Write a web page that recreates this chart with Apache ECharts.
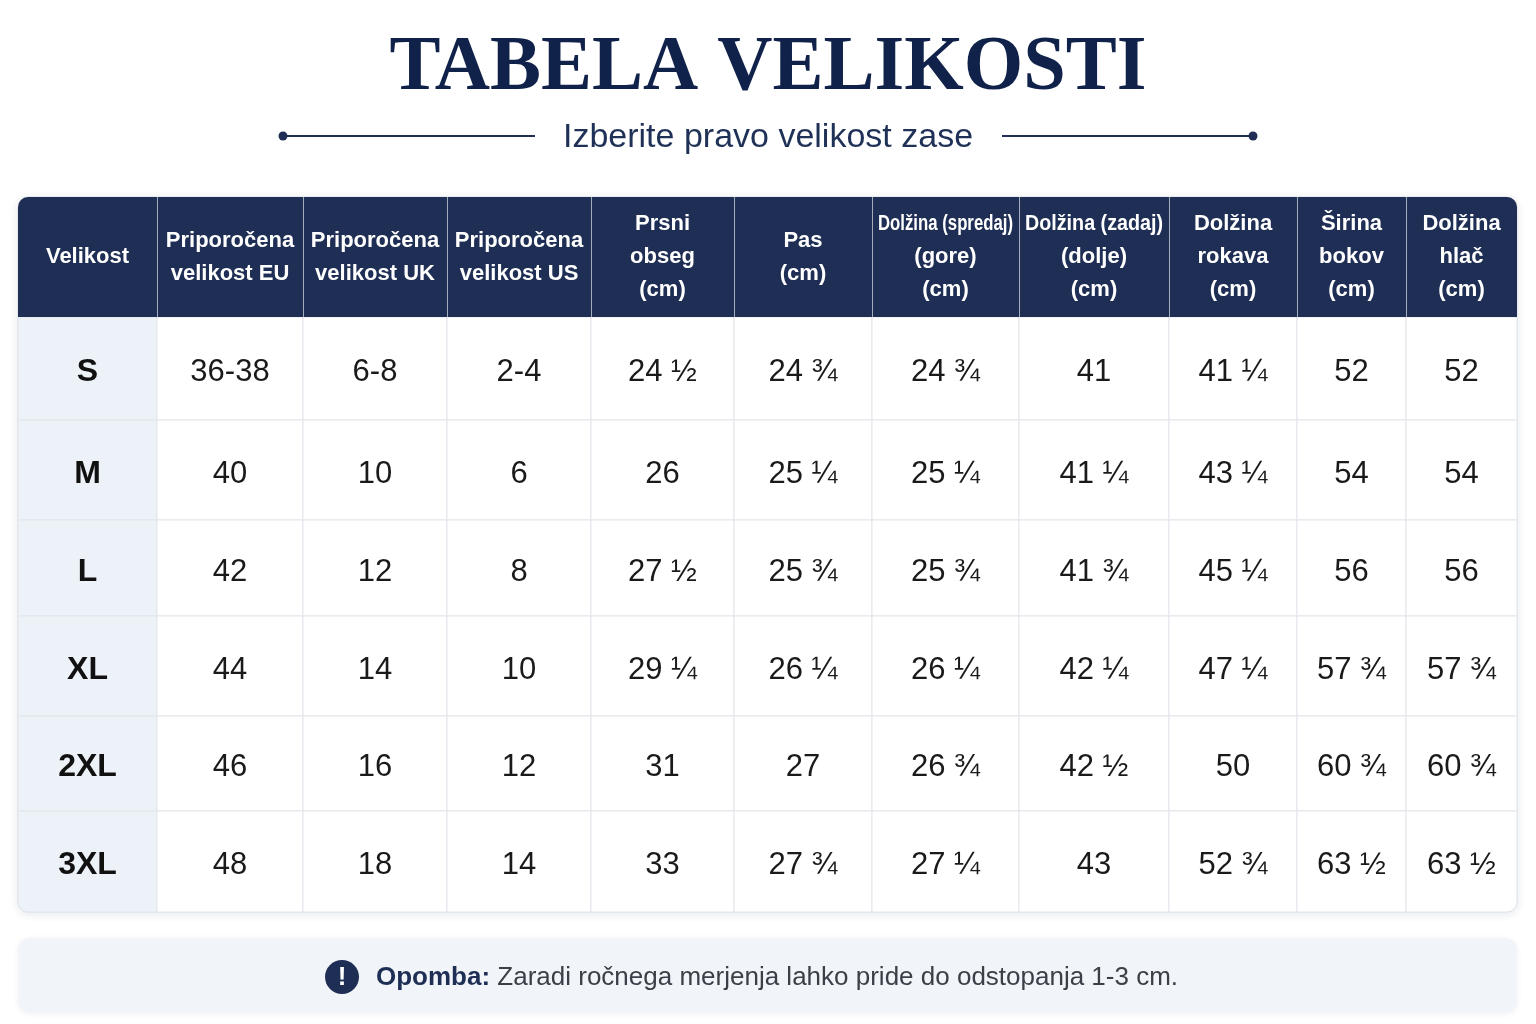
<!DOCTYPE html>
<html>
<head>
<meta charset="utf-8">
<title>Tabela velikosti</title>
<script src="https://cdn.jsdelivr.net/npm/echarts@6.0.0/dist/echarts.min.js"></script>
<style>
  html, body { margin: 0; padding: 0; background: #ffffff; }
  #main { width: 1536px; height: 1024px; }
</style>
</head>
<body>
<div id="main"></div>
<script>
// podatki tabele
var headers = [
  'Velikost',
  'Priporočena\nvelikost EU',
  'Priporočena\nvelikost UK',
  'Priporočena\nvelikost US',
  'Prsni\nobseg\n(cm)',
  'Pas\n(cm)',
  'Dolžina (spredaj)\n(gore)\n(cm)',
  'Dolžina (zadaj)\n(dolje)\n(cm)',
  'Dolžina\nrokava\n(cm)',
  'Širina\nbokov\n(cm)',
  'Dolžina\nhlač\n(cm)'
];
var sizes       = ['S', 'M', 'L', 'XL', '2XL', '3XL'];
var euSizes     = ['36-38', '40', '42', '44', '46', '48'];
var ukSizes     = ['6-8', '10', '12', '14', '16', '18'];
var usSizes     = ['2-4', '6', '8', '10', '12', '14'];
var chest       = ['24 ½', '26', '27 ½', '29 ¼', '31', '33'];
var waist       = ['24 ¾', '25 ¼', '25 ¾', '26 ¼', '27', '27 ¾'];
var frontLength = ['24 ¾', '25 ¼', '25 ¾', '26 ¼', '26 ¾', '27 ¼'];
var backLength  = ['41', '41 ¼', '41 ¾', '42 ¼', '42 ½', '43'];
var sleeve      = ['41 ¼', '43 ¼', '45 ¼', '47 ¼', '50', '52 ¾'];
var hipWidth    = ['52', '54', '56', '57 ¾', '60 ¾', '63 ½'];
var trousers    = ['52', '54', '56', '57 ¾', '60 ¾', '63 ½'];
var columns = [sizes, euSizes, ukSizes, usSizes, chest, waist, frontLength, backLength, sleeve, hipWidth, trousers];

// postavitev (sirine stolpcev, visine vrstic)
var colWidths = [139, 146, 144, 144, 143, 138, 147, 150, 128, 109, 111];
var rowHeights = [120, 103, 100, 96, 100, 95, 101];
var colEdges = [0], rowEdges = [0];
colWidths.forEach(function (w, i) { colEdges.push(colEdges[i] + w); });
rowHeights.forEach(function (h, i) { rowEdges.push(rowEdges[i] + h); });
var totalW = colEdges[colEdges.length - 1];
var totalH = rowEdges[rowEdges.length - 1];

var navy = '#1e2e54';
var headFont = 'bold 22px "Liberation Sans", Arial, sans-serif';

var ctx = document.createElement('canvas').getContext('2d');
function textWidth(t, font) { ctx.font = font; return ctx.measureText(t).width; }

var headerData = headers.map(function (h, i) { return [i, 0]; });
var bodyData = [];
sizes.forEach(function (s, r) {
  columns.forEach(function (col, c) { bodyData.push([c, r + 1]); });
});

function cellRect(api) {
  var c = api.value(0), r = api.value(1);
  var p0 = api.coord([colEdges[c], rowEdges[r]]);
  var p1 = api.coord([colEdges[c + 1], rowEdges[r + 1]]);
  return { c: c, r: r, x: p0[0], y: p0[1], w: p1[0] - p0[0], h: p1[1] - p0[1] };
}

function renderHeader(params, api) {
  var b = cellRect(api);
  var last = headers.length - 1;
  var radius = b.c === 0 ? [10, 0, 0, 0] : (b.c === last ? [0, 10, 0, 0] : 0);
  var children = [{
    type: 'rect',
    shape: { x: b.x, y: b.y, width: b.w, height: b.h, r: radius },
    style: { fill: navy }
  }];
  if (b.c > 0) {
    children.push({
      type: 'line',
      shape: { x1: b.x + 0.5, y1: b.y, x2: b.x + 0.5, y2: b.y + b.h },
      style: { stroke: 'rgba(255,255,255,0.6)', lineWidth: 1 }
    });
  }
  var lines = headers[b.c].split('\n');
  var lineH = 33;
  var cx = b.x + b.w / 2, cy = b.y + b.h / 2;
  lines.forEach(function (ln, i) {
    var tw = textWidth(ln, headFont);
    var maxW = b.w - 12;
    children.push({
      type: 'text',
      x: cx,
      y: cy - (lines.length - 1) * lineH / 2 + i * lineH,
      scaleX: tw > maxW ? maxW / tw : 1,
      style: { text: ln, x: 0, y: 0, align: 'center', verticalAlign: 'middle', font: headFont, fill: '#ffffff' }
    });
  });
  return { type: 'group', children: children };
}

function renderBody(params, api) {
  var b = cellRect(api);
  var lastRow = rowHeights.length - 1, lastCol = colWidths.length - 1;
  var radius = 0;
  if (b.r === lastRow && b.c === 0) radius = [0, 0, 0, 10];
  if (b.r === lastRow && b.c === lastCol) radius = [0, 0, 10, 0];
  var first = b.c === 0;
  return {
    type: 'group',
    children: [{
      type: 'rect',
      shape: { x: b.x, y: b.y, width: b.w, height: b.h, r: radius },
      style: { fill: first ? '#edf2f8' : '#ffffff', stroke: '#e2e5ea', lineWidth: 1 }
    }, {
      type: 'text',
      style: {
        text: columns[b.c][b.r - 1],
        x: b.x + b.w / 2, y: b.y + b.h / 2 + 4,
        align: 'center', verticalAlign: 'middle',
        font: first ? 'bold 32px "Liberation Sans", Arial, sans-serif' : '31px "Liberation Sans", Arial, sans-serif',
        fill: first ? '#111111' : '#1a1a1a'
      }
    }]
  };
}

var titleText = 'TABELA VELIKOSTI';
var titleFont = 'bold 78px "Liberation Serif", "Times New Roman", serif';
var titleScale = 757 / textWidth(titleText, titleFont);

var chart = echarts.init(document.getElementById('main'));
var option = {
  animation: false,
  backgroundColor: '#ffffff',
  grid: { left: 18, right: 19, top: 197, bottom: 112 },
  xAxis: { type: 'value', min: 0, max: totalW, show: false },
  yAxis: { type: 'value', min: 0, max: totalH, inverse: true, show: false },
  graphic: [
    {
      type: 'text', x: 768, y: 69, scaleX: titleScale,
      style: { text: titleText, x: 0, y: 0, align: 'center', verticalAlign: 'middle', font: titleFont, fill: '#10224a' }
    },
    {
      type: 'text', x: 768, y: 138,
      style: { text: 'Izberite pravo velikost zase', align: 'center', verticalAlign: 'middle',
        font: '34px "Liberation Sans", Arial, sans-serif', fill: '#1f3156' }
    },
    { type: 'line', shape: { x1: 283, y1: 136, x2: 535, y2: 136 }, style: { stroke: navy, lineWidth: 2 } },
    { type: 'line', shape: { x1: 1002, y1: 136, x2: 1253, y2: 136 }, style: { stroke: navy, lineWidth: 2 } },
    { type: 'circle', shape: { cx: 283, cy: 136, r: 4.5 }, style: { fill: navy } },
    { type: 'circle', shape: { cx: 1253, cy: 136, r: 4.5 }, style: { fill: navy } },
    {
      type: 'rect', z: -1,
      shape: { x: 18, y: 197, width: 1499, height: 715, r: 10 },
      style: { fill: '#ffffff', stroke: '#dde1e7', lineWidth: 1, shadowBlur: 10, shadowColor: 'rgba(20,40,80,0.10)', shadowOffsetY: 2 }
    },
    {
      type: 'rect',
      shape: { x: 18, y: 938, width: 1499, height: 75, r: 12 },
      style: { fill: '#f1f4f8', shadowBlur: 6, shadowColor: 'rgba(20,40,80,0.06)', shadowOffsetY: 1 }
    },
    { type: 'circle', shape: { cx: 342, cy: 977, r: 17 }, style: { fill: navy } },
    {
      type: 'text', x: 342, y: 978,
      style: { text: '!', align: 'center', verticalAlign: 'middle', font: 'bold 26px "Liberation Sans", Arial, sans-serif', fill: '#ffffff' }
    },
    {
      type: 'text', x: 376, y: 978,
      style: {
        text: '{b|Opomba: }{n|Zaradi ročnega merjenja lahko pride do odstopanja 1-3 cm.}',
        align: 'left', verticalAlign: 'middle',
        rich: {
          b: { fontFamily: 'Liberation Sans', fontWeight: 'bold', fontSize: 26, fill: navy, color: navy },
          n: { fontFamily: 'Liberation Sans', fontSize: 26, fill: '#3a3f48', color: '#3a3f48' }
        }
      }
    }
  ],
  series: [
    { type: 'custom', name: 'glava', renderItem: renderHeader, data: headerData, z: 3 },
    { type: 'custom', name: 'velikosti', renderItem: renderBody, data: bodyData, z: 2 }
  ]
};
chart.setOption(option);
</script>
</body>
</html>
